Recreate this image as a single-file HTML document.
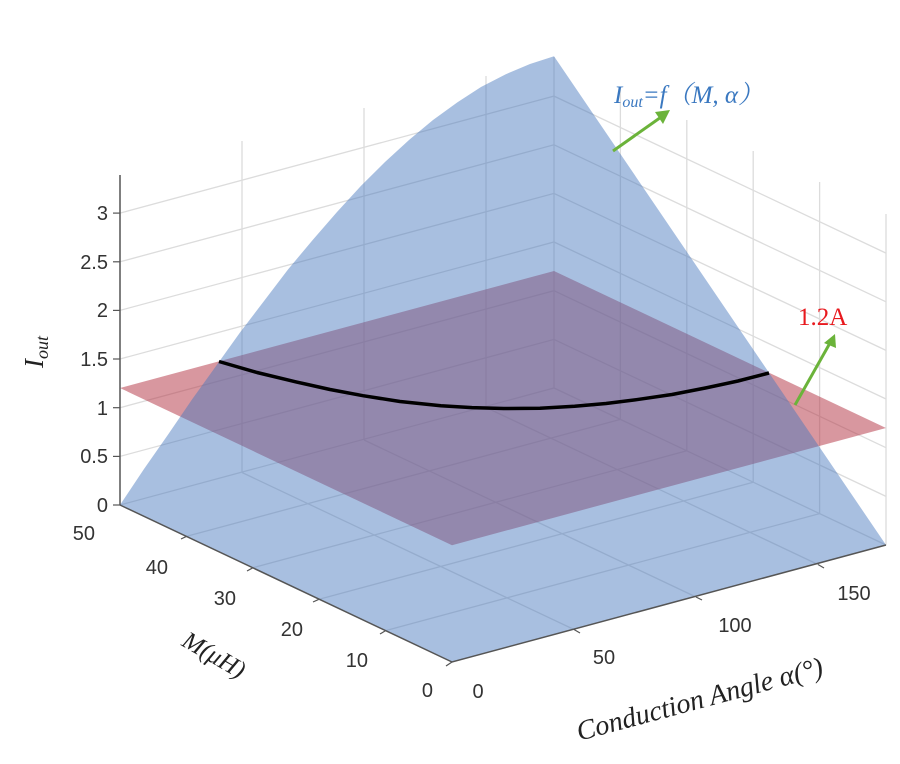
<!DOCTYPE html>
<html><head><meta charset="utf-8"><style>html,body{margin:0;padding:0;background:#fff}svg{display:block}</style></head>
<body>
<svg width="900" height="764" viewBox="0 0 900 764" xmlns="http://www.w3.org/2000/svg">
<g stroke="#dcdcdc" stroke-width="1.3" fill="none">
<polyline points="120,456.4 554,339.4 886,496.4"/>
<polyline points="120,407.7 554,290.7 886,447.7"/>
<polyline points="120,359 554,242 886,399"/>
<polyline points="120,310.4 554,193.4 886,350.4"/>
<polyline points="120,261.8 554,144.8 886,301.8"/>
<polyline points="120,213.1 554,96.1 886,253.1"/>
<line x1="242" y1="472.5" x2="242" y2="141"/>
<line x1="364" y1="440" x2="364" y2="108"/>
<line x1="486" y1="407.5" x2="486" y2="76"/>
<line x1="554" y1="388" x2="554" y2="57"/>
<line x1="620.4" y1="419.4" x2="620.4" y2="88"/>
<line x1="686.8" y1="450.8" x2="686.8" y2="120"/>
<line x1="753.2" y1="482.2" x2="753.2" y2="151"/>
<line x1="819.6" y1="513.6" x2="819.6" y2="182"/>
<line x1="886" y1="545" x2="886" y2="214"/>
<polyline points="120,505 554,388 886,545"/>
<line x1="385.6" y1="630.6" x2="819.6" y2="513.6"/>
<line x1="319.2" y1="599.2" x2="753.2" y2="482.2"/>
<line x1="252.8" y1="567.8" x2="686.8" y2="450.8"/>
<line x1="186.4" y1="536.4" x2="620.4" y2="419.4"/>
<line x1="574" y1="629.5" x2="242" y2="472.5"/>
<line x1="696" y1="597" x2="364" y2="440"/>
<line x1="818" y1="564.5" x2="486" y2="407.5"/>
</g>
<polygon points="452,545.2 120,388 554,271 886,428" fill="rgba(180,55,70,0.52)"/>
<polygon points="120,505 144,469 168.2,434.4 192,399.5 216.4,365.5 240,332.5 264.7,300.1 288,269.5 312.9,239.7 337,212 361.1,185.8 385,162 409.3,139.7 433,120 457.5,102.2 481,87 505.8,74.2 530,64 554,56.2 886,545 452,662" fill="rgba(70,120,190,0.47)"/>
<polyline points="219,361.5 257,372.5 296.1,381.9 330,389.5 363,395.7 400,401.5 440.9,405.7 472,407.6 503.7,408.5 540,408.2 574.6,406.3 606,403.5 636.4,399.7 672,394.5 706,387.9 738,381 769,373" fill="none" stroke="#000" stroke-width="3.5" stroke-linejoin="round"/>
<g stroke="#555" stroke-width="1.5" fill="none">
<line x1="120" y1="175" x2="120" y2="505"/>
<polyline points="120,505 452,662 886,545"/>
</g>
<g stroke="#555" stroke-width="1.2">
<line x1="113" y1="505" x2="120" y2="505"/><line x1="113" y1="456.4" x2="120" y2="456.4"/><line x1="113" y1="407.7" x2="120" y2="407.7"/><line x1="113" y1="359" x2="120" y2="359"/><line x1="113" y1="310.4" x2="120" y2="310.4"/><line x1="113" y1="261.8" x2="120" y2="261.8"/><line x1="113" y1="213.1" x2="120" y2="213.1"/>
<line x1="452" y1="662" x2="446" y2="666"/><line x1="574" y1="629.5" x2="580" y2="633"/><line x1="696" y1="597" x2="702" y2="600"/><line x1="818" y1="564.5" x2="824" y2="568"/>
<line x1="385.6" y1="630.6" x2="380" y2="634"/><line x1="319.2" y1="599.2" x2="313" y2="602"/><line x1="252.8" y1="567.8" x2="247" y2="571"/><line x1="186.4" y1="536.4" x2="181" y2="539"/>
</g>
<g font-family="Liberation Sans, sans-serif" font-size="20" fill="#333" text-anchor="end">
<text x="108" y="512">0</text><text x="108" y="463">0.5</text><text x="108" y="415">1</text><text x="108" y="366">1.5</text><text x="108" y="317">2</text><text x="108" y="269">2.5</text><text x="108" y="220">3</text>
<text x="95" y="540">50</text><text x="168" y="574">40</text><text x="236" y="605">30</text><text x="303" y="636">20</text><text x="368" y="667">10</text><text x="433" y="697">0</text>
</g>
<g font-family="Liberation Sans, sans-serif" font-size="20" fill="#333" text-anchor="middle">
<text x="478" y="698">0</text><text x="604" y="664">50</text><text x="735" y="632">100</text><text x="854" y="600">150</text>
</g>
<text transform="translate(43,352) rotate(-90)" font-family="Liberation Serif, serif" font-style="italic" font-size="27" fill="#222" text-anchor="middle">I<tspan font-size="18" dy="5">out</tspan></text>
<text transform="translate(210,662) rotate(30)" font-family="Liberation Serif, serif" font-style="italic" font-size="25" fill="#222" text-anchor="middle">M(μH)</text>
<text transform="translate(702,708) rotate(-15)" font-family="Liberation Serif, serif" font-style="italic" font-size="28" fill="#222" text-anchor="middle">Conduction Angle  α(°)</text>
<text x="614" y="103" font-family="Liberation Serif, 'Noto Serif CJK SC', serif" font-style="italic" font-size="25" fill="#3a78c0">I<tspan font-size="16" dy="4">out</tspan><tspan dy="-4">=f（M, α）</tspan></text>
<line x1="613" y1="151" x2="664" y2="115" stroke="#6bb33a" stroke-width="3"/>
<polygon points="670,110 655,112 663,124" fill="#6bb33a"/>
<text x="798" y="325" font-family="Liberation Serif, serif" font-size="25" fill="#e8191e">1.2A</text>
<line x1="795" y1="405" x2="830" y2="343" stroke="#6bb33a" stroke-width="3"/>
<polygon points="835,334 824,343 836,348" fill="#6bb33a"/>
</svg>
</body></html>
